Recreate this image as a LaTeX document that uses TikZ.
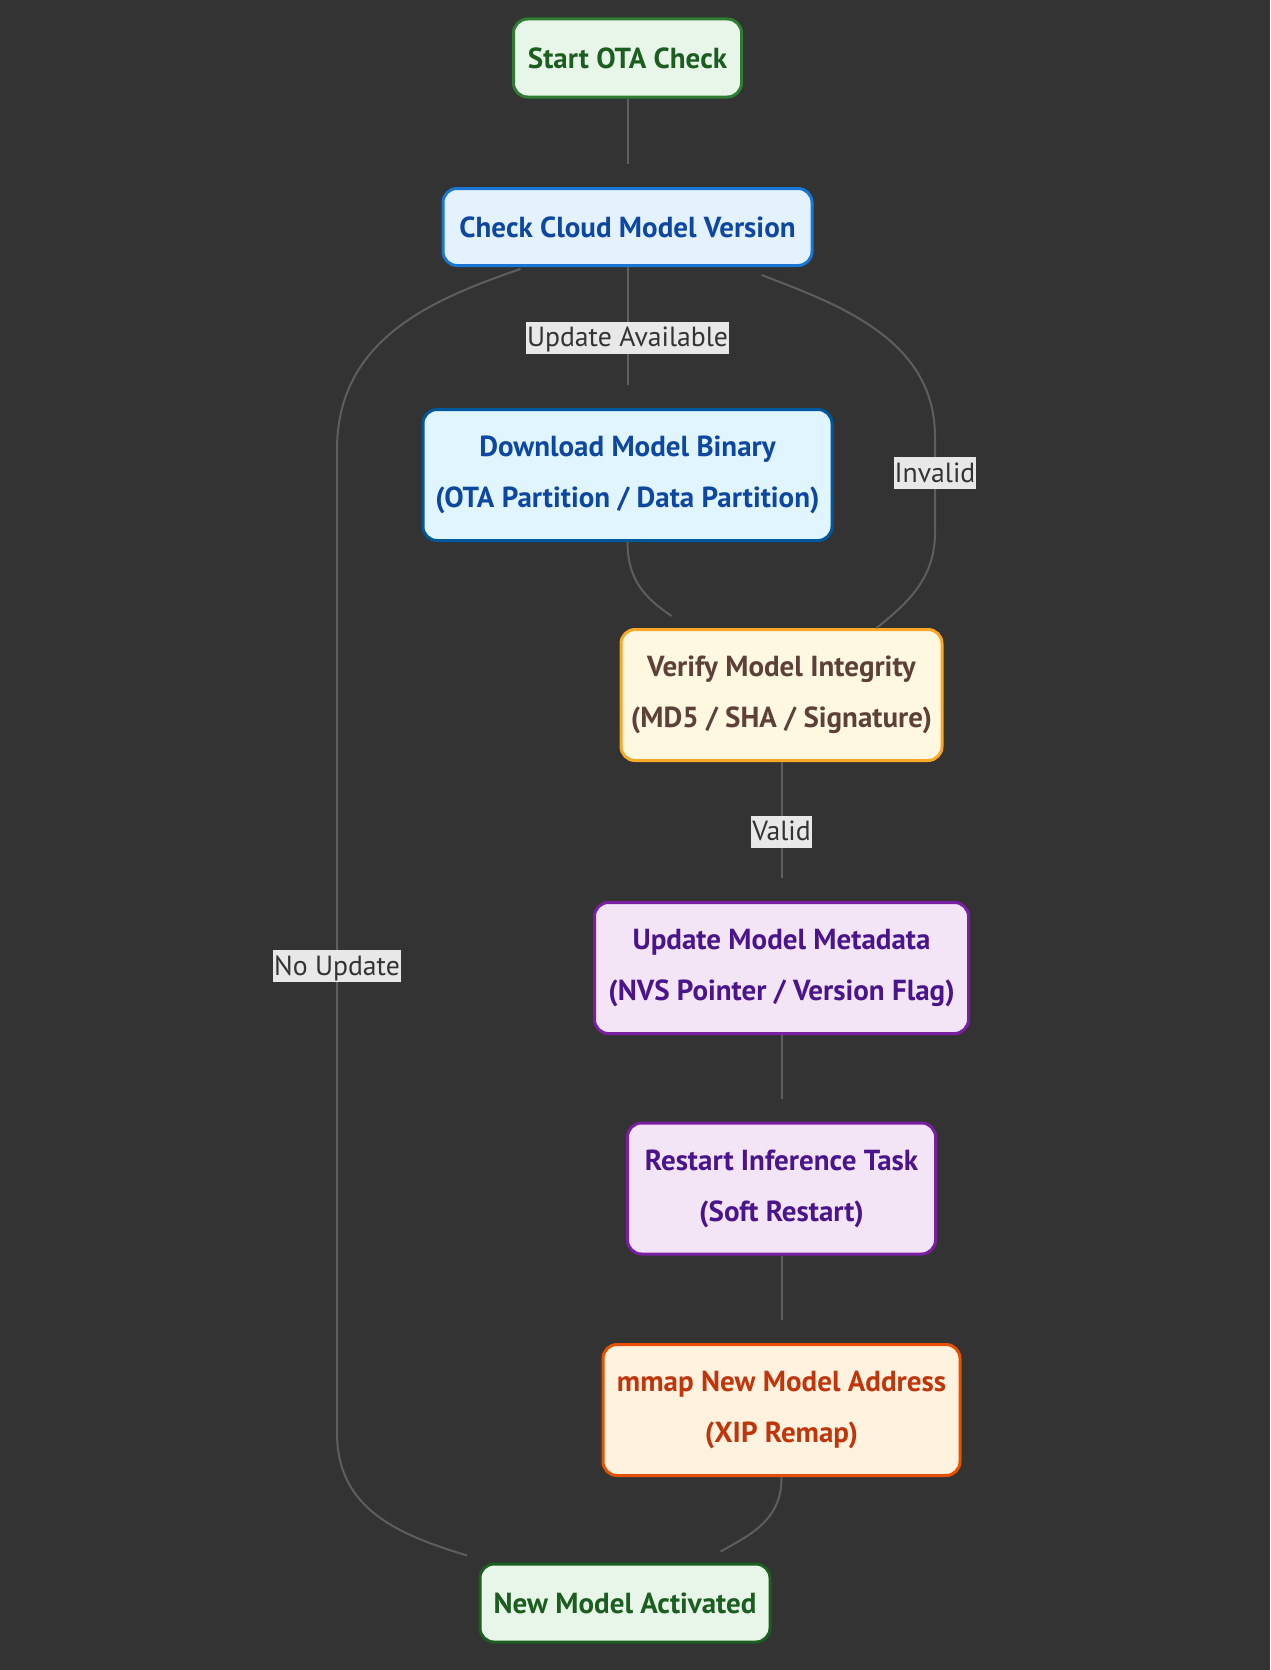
\documentclass[tikz,border=0pt]{standalone}
\usepackage{fontspec}
\setmainfont{PT Sans}

\definecolor{bgdark}{HTML}{333333}
\definecolor{edgegray}{HTML}{5E5E5E}
\definecolor{labelbg}{HTML}{E8E8E8}
\definecolor{labeltext}{HTML}{333333}
\definecolor{greenfill}{HTML}{E8F5E9}
\definecolor{greenline}{HTML}{2E7D32}
\definecolor{greentext}{HTML}{1B5E20}
\definecolor{bluefill}{HTML}{E3F2FD}
\definecolor{blueline}{HTML}{1976D2}
\definecolor{bluetext}{HTML}{0D47A1}
\definecolor{skyfill}{HTML}{E1F5FE}
\definecolor{skyline}{HTML}{01579B}
\definecolor{amberfill}{HTML}{FFF8E1}
\definecolor{amberline}{HTML}{F9A825}
\definecolor{ambertext}{HTML}{5D4037}
\definecolor{purplefill}{HTML}{F3E5F5}
\definecolor{purpleline}{HTML}{7B1FA2}
\definecolor{purpletext}{HTML}{4A148C}
\definecolor{orangefill}{HTML}{FFF3E0}
\definecolor{orangeline}{HTML}{E65100}
\definecolor{orangetext}{HTML}{BF360C}

\tikzset{
  box/.style={draw, line width=3pt, rounded corners=14pt, align=center,
    inner sep=0pt, font=\fontsize{29}{51}\selectfont\bfseries},
  greenbox/.style={box, fill=greenfill, draw=greenline, text=greentext},
  bluebox/.style={box, fill=bluefill, draw=blueline, text=bluetext},
  skybox/.style={box, fill=skyfill, draw=skyline, text=bluetext},
  amberbox/.style={box, fill=amberfill, draw=amberline, text=ambertext},
  purplebox/.style={box, fill=purplefill, draw=purpleline, text=purpletext},
  orangebox/.style={box, fill=orangefill, draw=orangeline, text=orangetext},
  edge/.style={draw=edgegray, line width=2pt},
  gap/.style={shorten >=23pt},
  elabel/.style={fill=labelbg, text=labeltext, inner xsep=1pt, inner ysep=0pt,
    text height=25pt, text depth=7pt, font=\fontsize{27.7}{32}\selectfont}
}

\begin{document}
\begin{tikzpicture}[x=1pt,y=-1pt]

% Background
\path[use as bounding box, fill=bgdark] (0,0) rectangle (1270,1670);

% Nodes
\node[greenbox, minimum width=228, minimum height=78] (start) at (627.5,58) {Start OTA Check};
\node[bluebox, minimum width=369, minimum height=77] (check) at (627.5,227) {Check Cloud Model Version};
\node[skybox, minimum width=409, minimum height=131] (download) at (627.5,475)
  {Download Model Binary\\(OTA Partition / Data Partition)};
\node[amberbox, minimum width=321, minimum height=131] (verify) at (781.5,695)
  {Verify Model Integrity\\(MD5 / SHA / Signature)};
\node[purplebox, minimum width=374, minimum height=131] (meta) at (781.5,968)
  {Update Model Metadata\\(NVS Pointer / Version Flag)};
\node[purplebox, minimum width=308, minimum height=131] (restart) at (781.5,1188.5)
  {Restart Inference Task\\(Soft Restart)};
\node[orangebox, minimum width=357, minimum height=131] (remap) at (781.5,1410)
  {mmap New Model Address\\(XIP Remap)};
\node[greenbox, draw=greentext, minimum width=290, minimum height=78] (done) at (625,1603) {New Model Activated};

% Straight connectors
\draw[edge, gap] (start) -- (check);
\draw[edge, gap] (check) -- node[elabel] {Update Available} (download);
\draw[edge, gap] (verify) -- node[elabel] {Valid} (meta);
\draw[edge, gap] (meta) -- (restart);
\draw[edge, gap] (restart) -- (remap);

% Curved connectors
\draw[edge] (download.south)
  .. controls (627.5,580) and (645,598) .. ([xshift=52pt,yshift=12pt]verify.north west);
\draw[edge] ([xshift=-52pt,yshift=-8pt]check.south east)
  .. controls (840,305) and (935,340) .. (935,437)
  -- node[elabel, pos=0.375] {Invalid} (935,533)
  .. controls (935,580) and (905,605) .. ([xshift=-67pt]verify.north east);
\draw[edge] ([xshift=79pt,yshift=-2pt]check.south west)
  .. controls (430,300) and (337,340) .. (337,450)
  -- node[elabel, pos=0.525] {No Update} (337,1433)
  .. controls (337,1510) and (400,1535) .. ([xshift=-11.5pt,yshift=7pt]done.north west);
\draw[edge] (remap.south)
  .. controls (782,1520) and (750,1535) .. ([xshift=-51pt,yshift=11pt]done.north east);

\end{tikzpicture}
\end{document}
